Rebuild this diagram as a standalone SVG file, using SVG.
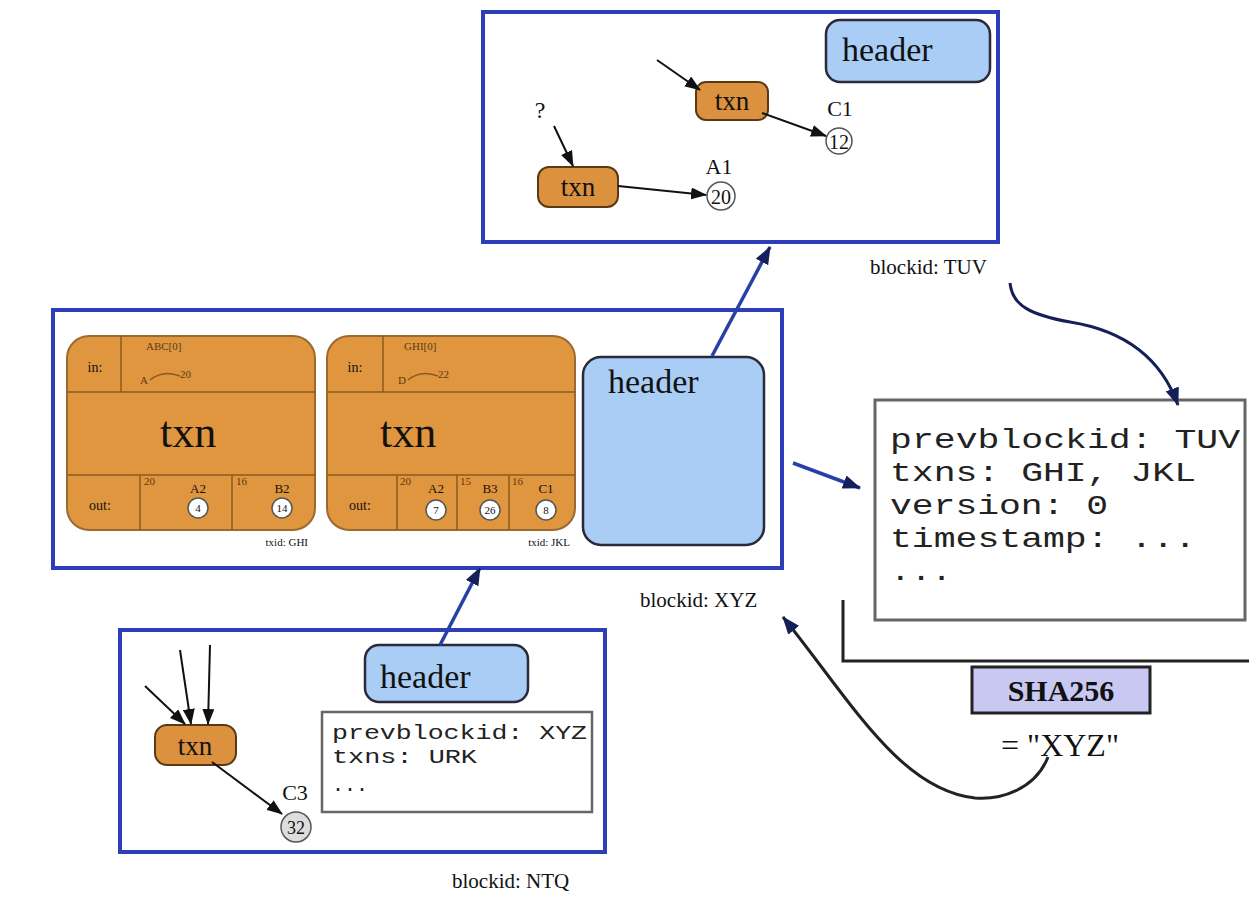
<svg xmlns="http://www.w3.org/2000/svg" width="1249" height="897" viewBox="0 0 1249 897">
<defs>
<marker id="akb" markerWidth="16" markerHeight="12" refX="15" refY="6" orient="auto" markerUnits="userSpaceOnUse"><path d="M0,0 L16,6 L0,12 z" fill="#111"/></marker>
<marker id="ab" markerWidth="18" markerHeight="14" refX="17" refY="7" orient="auto" markerUnits="userSpaceOnUse"><path d="M0,0 L18,7 L0,14 z" fill="#15205a"/></marker>
<style>
.blk{fill:#fff;stroke:#2e3db8;stroke-width:4}
.hdr{fill:#a9cdf4;stroke:#2a2a3a;stroke-width:2.5}
.tx{fill:#dc913f;stroke:#5a3a15;stroke-width:2}
.big{fill:#e0963f;stroke:#9a6a30;stroke-width:2}
.ln{stroke:#8a5a20;stroke-width:1.5;fill:none}
.s{font-family:"Liberation Serif",serif;fill:#111}
.m{font-family:"Liberation Mono",monospace;fill:#222}
.e{stroke:#111;stroke-width:2;fill:none}
.be{stroke:#2640a8;stroke-width:3.5;fill:none}
.cr{fill:#fff;stroke:#555;stroke-width:1.5}
.tiny{font-family:"Liberation Serif",serif;fill:#5a3a15;font-size:11px}
</style>
</defs>

<g id="block-tuv">
<rect class="blk" x="483" y="12" width="515" height="230"/>
<text class="s" x="870" y="274" font-size="21">blockid: TUV</text>
</g>
<g id="header-tuv">
<rect class="hdr" x="826" y="20" width="164" height="62" rx="14"/>
<text class="s" x="842" y="61" font-size="34">header</text>
</g>
<g id="txn-top1">
<rect class="tx" x="696" y="82" width="72" height="38" rx="10"/>
<text class="s" x="732" y="110" font-size="27" text-anchor="middle">txn</text>
</g>
<g id="txn-top2">
<rect class="tx" x="538" y="167" width="80" height="40" rx="11"/>
<text class="s" x="578" y="196" font-size="27" text-anchor="middle">txn</text>
</g>
<g id="out-c1">
<text class="s" x="840" y="116" font-size="22" text-anchor="middle">C1</text>
<circle class="cr" cx="839" cy="141" r="13"/>
<text class="s" x="839" y="149" font-size="20" text-anchor="middle">12</text>
</g>
<g id="out-a1">
<text class="s" x="719" y="174" font-size="22" text-anchor="middle">A1</text>
<circle class="cr" cx="721" cy="196" r="14"/>
<text class="s" x="721" y="204" font-size="20" text-anchor="middle">20</text>
</g>
<text class="s" x="540" y="118" font-size="24" text-anchor="middle">?</text>

<g id="block-xyz">
<rect class="blk" x="53" y="310" width="729" height="258"/>
<text class="s" x="640" y="607" font-size="21">blockid: XYZ</text>
</g>
<g id="txn-ghi">
<rect class="big" x="67" y="336" width="248" height="194" rx="22"/>
<line class="ln" x1="67" y1="392" x2="315" y2="392"/>
<line class="ln" x1="67" y1="475" x2="315" y2="475"/>
<line class="ln" x1="121" y1="336" x2="121" y2="392"/>
<line class="ln" x1="140" y1="475" x2="140" y2="530"/>
<line class="ln" x1="232" y1="475" x2="232" y2="530"/>
<text class="s" x="95" y="372" font-size="14" text-anchor="middle">in:</text>
<text class="tiny" x="146" y="350">ABC[0]</text>
<text class="tiny" x="140" y="384">A</text>
<path class="ln" d="M150 380 C160 372 170 372 180 376"/>
<text class="tiny" x="180" y="378" font-size="8">20</text>
<text class="s" x="160" y="447" font-size="44">txn</text>
<text class="s" x="100" y="510" font-size="14" text-anchor="middle">out:</text>
<text class="tiny" x="144" y="485" font-size="8">20</text>
<text class="s" x="198" y="493" font-size="13" text-anchor="middle">A2</text>
<circle class="cr" cx="198" cy="508" r="10"/>
<text class="s" x="198" y="512" font-size="11" text-anchor="middle">4</text>
<text class="tiny" x="236" y="485" font-size="8">16</text>
<text class="s" x="282" y="493" font-size="13" text-anchor="middle">B2</text>
<circle class="cr" cx="282" cy="508" r="10"/>
<text class="s" x="282" y="512" font-size="11" text-anchor="middle">14</text>
<text class="s" x="308" y="546" font-size="11" text-anchor="end">txid: GHI</text>
</g>
<g id="txn-jkl">
<rect class="big" x="327" y="336" width="248" height="194" rx="22"/>
<line class="ln" x1="327" y1="392" x2="575" y2="392"/>
<line class="ln" x1="327" y1="475" x2="575" y2="475"/>
<line class="ln" x1="383" y1="336" x2="383" y2="392"/>
<line class="ln" x1="397" y1="475" x2="397" y2="530"/>
<line class="ln" x1="457" y1="475" x2="457" y2="530"/>
<line class="ln" x1="509" y1="475" x2="509" y2="530"/>
<text class="s" x="355" y="372" font-size="14" text-anchor="middle">in:</text>
<text class="tiny" x="404" y="350">GHI[0]</text>
<text class="tiny" x="398" y="384">D</text>
<path class="ln" d="M408 380 C418 372 428 372 438 376"/>
<text class="tiny" x="438" y="378" font-size="8">22</text>
<text class="s" x="380" y="447" font-size="44">txn</text>
<text class="s" x="360" y="510" font-size="14" text-anchor="middle">out:</text>
<text class="tiny" x="400" y="485" font-size="8">20</text>
<text class="s" x="436" y="493" font-size="13" text-anchor="middle">A2</text>
<circle class="cr" cx="436" cy="510" r="10"/>
<text class="s" x="436" y="514" font-size="11" text-anchor="middle">7</text>
<text class="tiny" x="460" y="485" font-size="8">15</text>
<text class="s" x="490" y="493" font-size="13" text-anchor="middle">B3</text>
<circle class="cr" cx="490" cy="510" r="10"/>
<text class="s" x="490" y="514" font-size="11" text-anchor="middle">26</text>
<text class="tiny" x="512" y="485" font-size="8">16</text>
<text class="s" x="546" y="493" font-size="13" text-anchor="middle">C1</text>
<circle class="cr" cx="546" cy="510" r="10"/>
<text class="s" x="546" y="514" font-size="11" text-anchor="middle">8</text>
<text class="s" x="570" y="546" font-size="11" text-anchor="end">txid: JKL</text>
</g>
<g id="header-xyz">
<rect class="hdr" x="583" y="357" width="181" height="188" rx="18"/>
<text class="s" x="608" y="393" font-size="34">header</text>
</g>

<g id="block-ntq">
<rect class="blk" x="120" y="630" width="485" height="222"/>
<text class="s" x="452" y="888" font-size="21">blockid: NTQ</text>
</g>
<g id="header-ntq">
<rect class="hdr" x="365" y="645" width="163" height="57" rx="14"/>
<text class="s" x="380" y="688" font-size="34">header</text>
</g>
<g id="txn-bottom">
<rect class="tx" x="155" y="725" width="81" height="40" rx="12"/>
<text class="s" x="195" y="755" font-size="27" text-anchor="middle">txn</text>
</g>
<g id="out-c3">
<text class="s" x="295" y="800" font-size="22" text-anchor="middle">C3</text>
<circle cx="296" cy="827" r="15" fill="#ddd" stroke="#555" stroke-width="1.5"/>
<text class="s" x="296" y="834" font-size="18" text-anchor="middle">32</text>
</g>
<g id="header-fields-ntq">
<rect x="322" y="712" width="270" height="100" fill="#fff" stroke="#666" stroke-width="2.5"/>
<text class="m" x="332" y="739" font-size="20" textLength="255" lengthAdjust="spacingAndGlyphs">prevblockid: XYZ</text>
<text class="m" x="332" y="763" font-size="20" textLength="145" lengthAdjust="spacingAndGlyphs">txns: URK</text>
<text class="m" x="332" y="791" font-size="20">...</text>
</g>

<g id="header-fields-xyz">
<rect x="875" y="400" width="370" height="220" fill="#fff" stroke="#666" stroke-width="3"/>
<text class="m" x="890" y="448" font-size="28" textLength="350" lengthAdjust="spacingAndGlyphs">prevblockid: TUV</text>
<text class="m" x="890" y="481" font-size="28" textLength="306" lengthAdjust="spacingAndGlyphs">txns: GHI, JKL</text>
<text class="m" x="890" y="514" font-size="28" textLength="218" lengthAdjust="spacingAndGlyphs">version: 0</text>
<text class="m" x="890" y="547" font-size="28" textLength="306" lengthAdjust="spacingAndGlyphs">timestamp: ...</text>
<text class="m" x="890" y="580" font-size="28" textLength="62" lengthAdjust="spacingAndGlyphs">...</text>
</g>
<g id="sha256">
<rect x="972" y="667" width="178" height="46" fill="#c8c8f2" stroke="#222" stroke-width="3"/>
<text class="s" x="1061" y="701" font-size="30" font-weight="bold" text-anchor="middle" fill="#1a1a3a">SHA256</text>
<text class="s" x="1060" y="756" font-size="32" text-anchor="middle">= "XYZ"</text>
</g>

<g id="connectors">
<line class="e" x1="657" y1="60" x2="700" y2="90" marker-end="url(#akb)"/>
<line class="e" x1="762" y1="113" x2="826" y2="136" marker-end="url(#akb)"/>
<line class="e" x1="554" y1="126" x2="573" y2="166" marker-end="url(#akb)"/>
<line class="e" x1="618" y1="186" x2="706" y2="195" marker-end="url(#akb)"/>
<line class="e" x1="145" y1="686" x2="185" y2="724" marker-end="url(#akb)"/>
<line class="e" x1="180" y1="650" x2="191" y2="724" marker-end="url(#akb)"/>
<line class="e" x1="210" y1="645" x2="208" y2="724" marker-end="url(#akb)"/>
<line class="e" x1="212" y1="762" x2="282" y2="814" marker-end="url(#akb)"/>
<line class="be" x1="712" y1="356" x2="770" y2="247" marker-end="url(#ab)"/>
<line class="be" x1="440" y1="645" x2="480" y2="568" marker-end="url(#ab)"/>
<line class="be" x1="793" y1="463" x2="860" y2="488" marker-end="url(#ab)"/>
<path d="M1010 283 C1012 305 1030 315 1070 322 C1120 330 1160 355 1178 405" stroke="#15205a" stroke-width="3" fill="none" marker-end="url(#ab)"/>
<path d="M843 600 L843 661 L1249 661" stroke="#222" stroke-width="3" fill="none"/>
<path d="M1048 757 C1035 790 1000 800 975 798 C900 790 850 700 783 617" stroke="#222" stroke-width="3" fill="none" marker-end="url(#ab)"/>
</g>
</svg>
